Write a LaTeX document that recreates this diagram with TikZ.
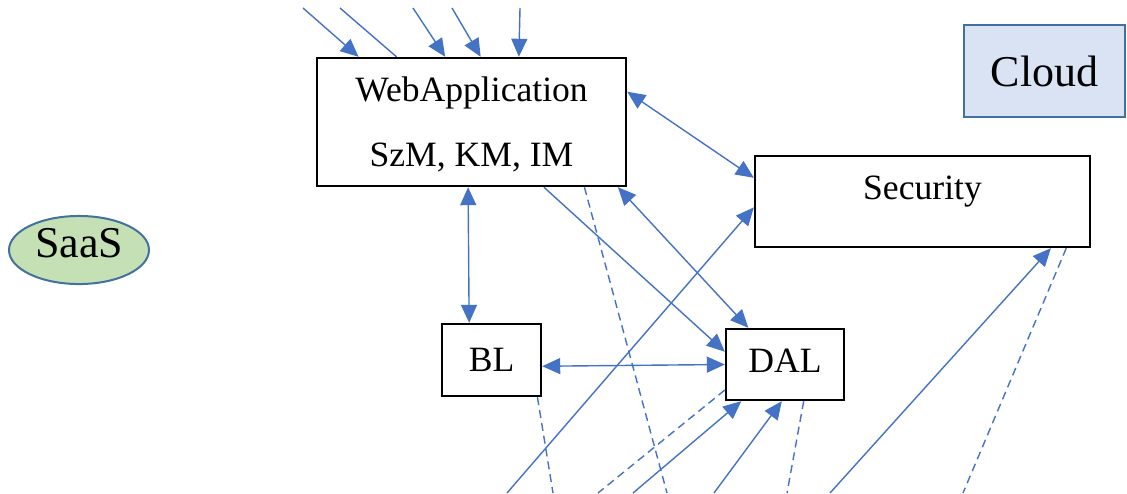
\documentclass[tikz,border=0pt]{standalone}
\usepackage{fontspec}
\setmainfont{Liberation Serif}
\usetikzlibrary{arrows.meta,shapes.geometric}
\definecolor{linkblue}{RGB}{68,114,196}
\definecolor{saasgreen}{RGB}{197,224,180}
\definecolor{cloudblue}{RGB}{218,227,243}
\definecolor{edgeblue}{RGB}{65,113,156}

\begin{document}
\begin{tikzpicture}
[
    x=0.5pt, y=-0.5pt,
    layer/.style={draw=black, line width=1.2pt, fill=white, inner sep=1pt, font=\fontsize{17.8}{21}\selectfont},
    tag/.style={draw=edgeblue, line width=1pt, inner sep=1pt, font=\fontsize{22}{25}\selectfont},
    link/.style={draw=linkblue, line width=0.7pt},
    oneway/.style={link, -{Triangle[length=9pt,width=8pt]}},
    twoway/.style={link, {Triangle[length=9pt,width=8pt]}-{Triangle[length=9pt,width=8pt]}},
    loose/.style={link, dash pattern=on 4pt off 2.5pt},
]
\useasboundingbox (0,0) rectangle (1127,493);

\node (web) [layer, minimum width=154.5pt, minimum height=64pt, align=center] at (471.5,122)
{\rule{0pt}{15pt}WebApplication\\[11.5pt]SzM, KM, IM};
\node (sec) [layer, minimum width=167.5pt, minimum height=45.5pt, text depth=13.3pt] at (922.5,201.5) {Security};
\node (bl) [layer, minimum width=49.5pt, minimum height=36pt] at (491.5,360) {BL};
\node (dal) [layer, minimum width=59pt, minimum height=35.5pt, text depth=4pt] at (785,364.5) {DAL};
\node (saas) [tag, ellipse, fill=saasgreen, minimum width=70pt, minimum height=33pt, text depth=7.5pt] at (79,250) {SaaS};
\node (cloud) [tag, fill=cloudblue, minimum width=80.5pt, minimum height=46pt] at (1044.5,71) {Cloud};

\coordinate (top1) at (303,8);
\coordinate (top2) at (340,8);
\coordinate (top3) at (413,8);
\coordinate (top4) at (452,8);
\coordinate (top5) at (520,8);
\coordinate (bot1) at (507,493);
\coordinate (bot2) at (667,493);
\coordinate (bot3) at (553,493);
\coordinate (bot4) at (598,493);
\coordinate (bot5) at (633,493);
\coordinate (bot6) at (714,493);
\coordinate (bot7) at (787,493);
\coordinate (bot8) at (830,493);
\coordinate (bot9) at (963,493);

\draw [oneway] (top1) -- (web.150);
\draw [link] (top2) -- (web.139);
\draw [oneway] (top3) -- (web.112);
\draw [oneway] (top4) -- (web.82);
\draw [oneway] (top5) -- (web.54);

\draw [twoway] (web.11) -- (sec.172);
\draw [twoway] (web.336) -- (dal.135);
\draw [oneway] (web.318) -- (dal.168);
\draw [twoway] (web.267) -- (bl.121);
\draw [twoway] (bl.353) -- (dal.180);

\draw [oneway] (bot1) -- (sec.182);
\draw [loose] (web.330) -- (bot2);
\draw [loose] (bl.321) -- (bot3);
\draw [loose] (dal.203) -- (bot4);
\draw [oneway] (bot5) -- (dal.220);
\draw [oneway] (bot6) -- (dal.265);
\draw [loose] (dal.297) -- (bot7);
\draw [oneway] (bot8) -- (sec.340);
\draw [loose] (sec.342) -- (bot9);
\end{tikzpicture}
\end{document}
